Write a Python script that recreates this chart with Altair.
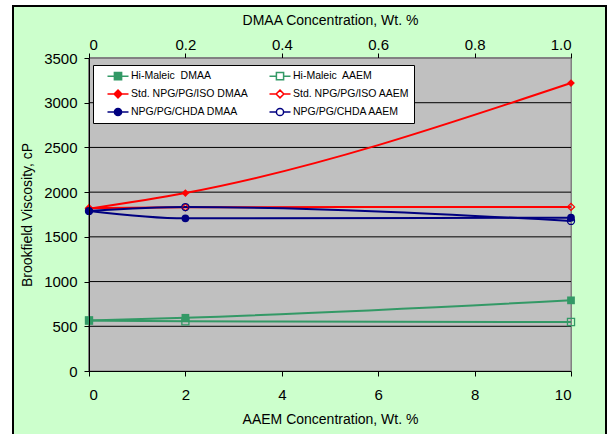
import altair as alt
import pandas as pd

# ---- data ----
aaem_x = [0, 2, 10]          # AAEM concentration, Wt. % (bottom axis)
dmaa_x = [0, 0.2, 1.0]       # DMAA concentration, Wt. % (top axis)

hi_maleic_dmaa = [565, 595, 790]
hi_maleic_aaem = [565, 555, 548]
std_iso_dmaa = [1815, 1990, 3220]
std_iso_aaem = [1820, 1830, 1835]
chda_dmaa = [1790, 1707, 1715]
chda_aaem = [1790, 1833, 1678]

names = [
    "Hi-Maleic\u00a0 DMAA",
    "Hi-Maleic\u00a0 AAEM",
    "Std. NPG/PG/ISO DMAA",
    "Std. NPG/PG/ISO AAEM",
    "NPG/PG/CHDA DMAA",
    "NPG/PG/CHDA AAEM",
]
y_ticks = [0, 500, 1000, 1500, 2000, 2500, 3000, 3500]
grid_values = [500, 1000, 1500, 2000, 2500, 3000]
aaem_ticks = [0, 2, 4, 6, 8, 10]
dmaa_ticks = [0, 0.2, 0.4, 0.6, 0.8, 1.0]

GREEN, RED, NAVY = "#339966", "#FF0000", "#000080"
FONT = "Liberation Sans"

dmaa_names = [names[0], names[2], names[4]]
aaem_names = [names[1], names[3], names[5]]
dmaa_vals = [hi_maleic_dmaa, std_iso_dmaa, chda_dmaa]
aaem_vals = [hi_maleic_aaem, std_iso_aaem, chda_aaem]

dmaa_df = pd.DataFrame(
    [{"series": n, "x": x, "v": v} for n, vals in zip(dmaa_names, dmaa_vals) for x, v in zip(dmaa_x, vals)]
)
aaem_df = pd.DataFrame(
    [{"series": n, "x": x, "v": v} for n, vals in zip(aaem_names, aaem_vals) for x, v in zip(aaem_x, vals)]
)
legend_df = pd.DataFrame({"series": names})
grid_df = pd.DataFrame({"v": grid_values})

W, H = 482, 313

yscale = alt.Scale(domain=[0, 3500], nice=False)
yaxis = alt.Axis(values=y_ticks, format="d", title="Brookfield Viscosity, cP", grid=False, tickSize=5,
                 labelPadding=7, titlePadding=9, domainColor="black", tickColor="black",
                 zindex=1)


def yenc():
    return alt.Y("v:Q", scale=yscale, axis=yaxis)


three_colors = [GREEN, RED, NAVY]
shapes3 = ["square", "diamond", "circle"]

# frame and plot area
frame = alt.Chart(grid_df).mark_rect(fill="#CCFFCC", stroke="black", strokeWidth=2).encode(
    x=alt.value(-76), x2=alt.value(517), y=alt.value(-52), y2=alt.value(380)
)
plot_bg = alt.Chart(grid_df).mark_rect(fill="#C0C0C0", stroke="#808080", strokeWidth=1).encode(
    x=alt.value(0), x2=alt.value(W), y=alt.value(0), y2=alt.value(H)
)
grid = alt.Chart(grid_df).mark_rule(color="black", strokeWidth=1).encode(y=yenc())

# AAEM group (bottom axis)
ax_bottom = alt.Axis(orient="bottom", values=aaem_ticks, grid=False, title="AAEM Concentration, Wt. %",
                     tickSize=5, labelPadding=11, titlePadding=10, domainColor="black", tickColor="black",
                     zindex=1)
xa = alt.X("x:Q", scale=alt.Scale(domain=[0, 10], nice=False), axis=ax_bottom)
aaem_color = alt.Color("series:N", scale=alt.Scale(domain=aaem_names, range=three_colors), legend=None)
aaem_shape = alt.Shape("series:N", scale=alt.Scale(domain=aaem_names, range=shapes3), legend=None)
aaem_line = alt.Chart(aaem_df).mark_line(strokeWidth=2, interpolate="monotone").encode(
    x=xa, y=yenc(), color=aaem_color)
aaem_pts = alt.Chart(aaem_df).mark_point(filled=False, size=50, strokeWidth=1.3, opacity=1).encode(
    x=xa, y=yenc(), color=aaem_color, shape=aaem_shape)
aaem_group = alt.layer(aaem_line, aaem_pts)

# DMAA group (top axis)
ax_top = alt.Axis(orient="top", values=dmaa_ticks, grid=False, title="DMAA Concentration, Wt. %",
                  labelExpr="datum.value == 0 ? '0' : format(datum.value, '.1f')",
                  tickSize=5, labelPadding=1, titlePadding=10, domainColor="#808080", tickColor="black",
                  zindex=1)
xd = alt.X("x:Q", scale=alt.Scale(domain=[0, 1], nice=False), axis=ax_top)
dmaa_color = alt.Color("series:N", scale=alt.Scale(domain=dmaa_names, range=three_colors), legend=None)
dmaa_shape = alt.Shape("series:N", scale=alt.Scale(domain=dmaa_names, range=shapes3), legend=None)
dmaa_line = alt.Chart(dmaa_df).mark_line(strokeWidth=2, interpolate="monotone").encode(
    x=xd, y=yenc(), color=dmaa_color)
dmaa_pts = alt.Chart(dmaa_df).mark_point(filled=True, size=60, opacity=1).encode(
    x=xd, y=yenc(), color=dmaa_color, shape=dmaa_shape)
dmaa_group = alt.layer(dmaa_line, dmaa_pts)

# legend layer (no marks drawn, only legend entries); legend fills column by column
order = [0, 2, 4, 1, 3, 5]
leg_names = [names[i] for i in order]
L = "M-1.75,0H-0.6M0.6,0H1.75"
sq = L + "M-0.6,-0.6H0.6V0.6H-0.6Z"
di = L + "M0,-0.65L0.65,0L0,0.65L-0.65,0Z"
ci = L + "M-0.6,0A0.6,0.6,0,1,0,0.6,0A0.6,0.6,0,1,0,-0.6,0Z"
all_paths = [sq, sq, di, di, ci, ci]
all_strokes = [GREEN, GREEN, RED, RED, NAVY, NAVY]
all_fills = [GREEN, "white", RED, "white", NAVY, "white"]
legend_paths = [all_paths[i] for i in order]
legend_strokes = [all_strokes[i] for i in order]
legend_fills = [all_fills[i] for i in order]


def leg():
    return alt.Legend(orient="none", legendX=4, legendY=7, columns=2, title=None,
                      symbolSize=144, symbolStrokeWidth=1.5, symbolOpacity=1,
                      labelFont=FONT, labelFontSize=10.5, labelColor="black", labelOffset=6,
                      rowPadding=4, columnPadding=11, padding=4, symbolOffset=14,
                      fillColor="white", strokeColor="black")


legend_layer = alt.Chart(legend_df).mark_point(size=144, opacity=1, strokeWidth=1.5).encode(
    shape=alt.Shape("series:N", scale=alt.Scale(domain=leg_names, range=legend_paths), legend=leg()),
    stroke=alt.Stroke("series:N", scale=alt.Scale(domain=leg_names, range=legend_strokes), legend=leg()),
    fill=alt.Fill("series:N", scale=alt.Scale(domain=leg_names, range=legend_fills), legend=leg()),
).transform_filter("false")

chart = alt.layer(frame, plot_bg, grid, aaem_group, dmaa_group, legend_layer).resolve_scale(
    x="independent", color="independent", shape="independent", fill="independent", stroke="independent"
).properties(
    width=W, height=H,
    autosize=alt.AutoSizeParams(type="none"),
    padding={"left": 89, "top": 58, "right": 37, "bottom": 63},
    background="white",
).configure_view(stroke="transparent").configure_axis(
    labelFont=FONT, titleFont=FONT, labelFontSize=15, titleFontSize=14,
    titleFontWeight="normal", labelColor="black", titleColor="black",
)

chart.save("out.html", embed_options={"renderer": "svg", "actions": False})
